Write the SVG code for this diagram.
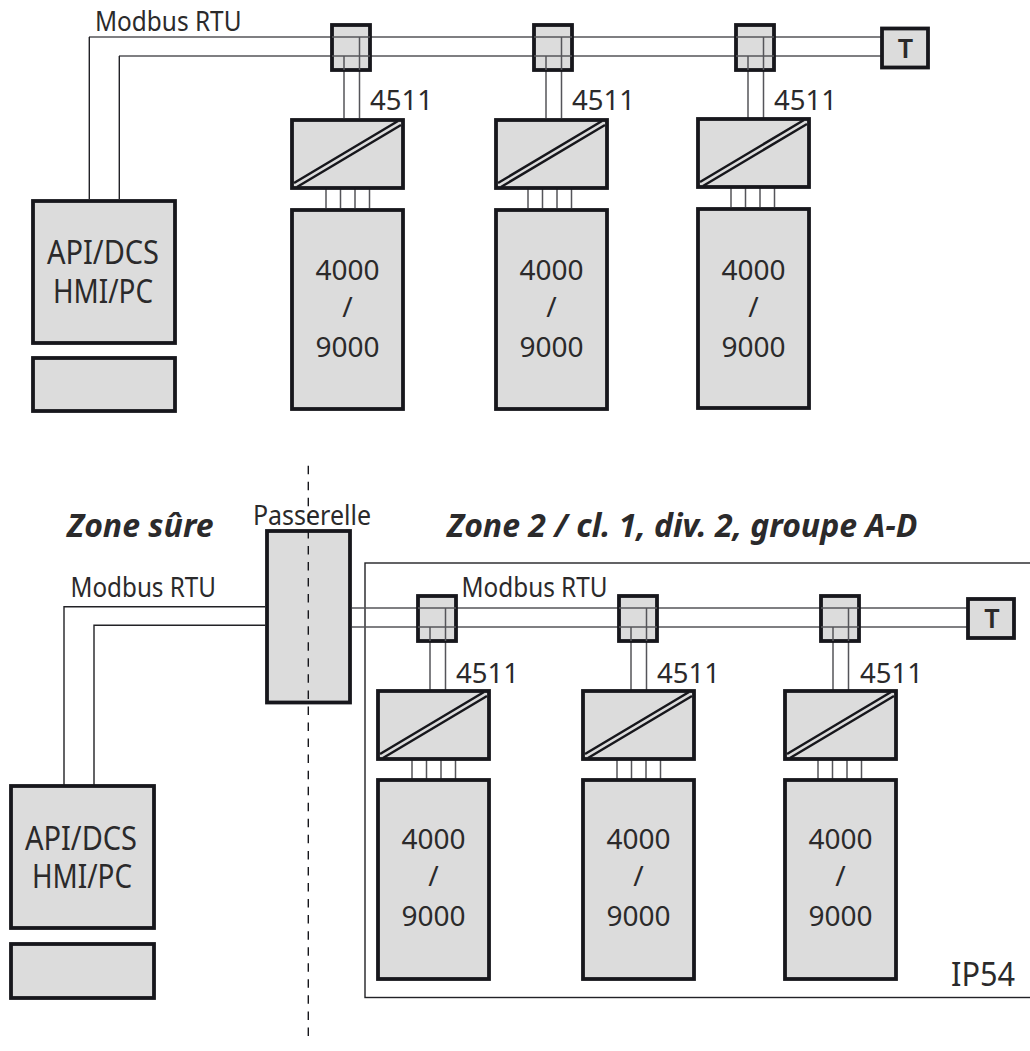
<svg xmlns="http://www.w3.org/2000/svg" xmlns:xlink="http://www.w3.org/1999/xlink" width="1030" height="1051" viewBox="0 0 1030 1051">
<style>
text{font-family:"Noto Sans","Open Sans",sans-serif;fill:#2b2a2b}
.b{fill:#dcdcdc;stroke:#17171c;stroke-width:3.8}
.l{fill:none;stroke:#55555a;stroke-width:1.5}
.k{fill:none;stroke:#222226;stroke-width:1.4}
.t{font-size:27.500px}
.m{font-size:27px}
.big{font-size:28px;text-anchor:middle}
.api{font-size:32px;text-anchor:middle}
.z{font-size:32px;font-weight:700;font-style:italic}
.tt{font-size:27px;font-weight:600;text-anchor:middle}
.d{fill:none;stroke:#17171c;stroke-width:2.500}
</style>
<defs>
<g id="conv">
<rect class="b" x="2" y="2" width="111" height="68"/>
<path class="d" d="M4 65L108 3M7 69L111 7"/>
</g>
</defs>
<rect id="ip54-zone" x="365" y="563" width="670" height="434.500" fill="none" stroke="#222226" stroke-width="1.400"/>
<g id="connectors">
<path class="l" d="M89 37H332M119 56H332M370 37H534M370 56H534M572 37H736M572 56H736M774 37H882M774 56H882"/>
<path class="k" d="M89.300 199V37M119.300 199V56"/>
<path class="l" d="M344 56V118M359.500 37V118M546 56V118M561.500 37V118M748 56V118M763.500 37V118"/>
<path class="l" d="M326 189V208M340.500 189V208M355 189V208M369.500 189V208M528 189V208M542.500 189V208M557 189V208M571.500 189V208M731 188V207M745.500 188V207M760 188V207M774.500 188V207"/>
<path class="k" d="M64 785V606.700H265M94 785V625.300H265"/>
<path class="l" d="M352 608H418M352 627H418M456 608H619M456 627H619M657 608H821M657 627H821M859 608H968M859 627H968"/>
<path class="l" d="M430 627V690M445.500 608V690M631 627V690M646.500 608V690M833 627V690M848.500 608V690"/>
<path class="l" d="M412 760V779M426.500 760V779M441 760V779M455.500 760V779M617 760V779M631.500 760V779M646 760V779M660.500 760V779M818 760V779M832.500 760V779M847 760V779M861.500 760V779"/>
</g>
<g id="api-top"><rect class="b" x="33" y="201" width="142" height="142"/><text class="api" x="103" y="264" textLength="112" lengthAdjust="spacingAndGlyphs">API/DCS</text><text class="api" x="103" y="303" textLength="100" lengthAdjust="spacingAndGlyphs">HMI/PC</text></g>
<g id="panel-top"><rect class="b" x="33" y="358" width="142" height="53"/></g>
<g id="tap-1"><rect class="b" x="332" y="25" width="38" height="45"/><path class="l" d="M332 37H370M332 56H370M344 56V70M359.500 37V70"/></g>
<g id="tap-2"><rect class="b" x="534" y="25" width="38" height="45"/><path class="l" d="M534 37H572M534 56H572M546 56V70M561.500 37V70"/></g>
<g id="tap-3"><rect class="b" x="736" y="25" width="38" height="45"/><path class="l" d="M736 37H774M736 56H774M748 56V70M763.500 37V70"/></g>
<g id="term-top"><rect class="b" x="882" y="28.500" width="46" height="39"/><text class="tt" x="905.500" y="58">T</text></g>
<g id="conv-1"><use xlink:href="#conv" x="290" y="118"/></g>
<g id="conv-2"><use xlink:href="#conv" x="494" y="118"/></g>
<g id="conv-3"><use xlink:href="#conv" x="696" y="117"/></g>
<g id="dev-1"><rect class="b" x="292" y="210" width="111" height="199"/><text class="big" x="347.500" y="280">4000</text><text class="big" x="347.500" y="317">/</text><text class="big" x="347.500" y="357">9000</text></g>
<g id="dev-2"><rect class="b" x="496" y="210" width="111" height="199"/><text class="big" x="551.500" y="280">4000</text><text class="big" x="551.500" y="317">/</text><text class="big" x="551.500" y="357">9000</text></g>
<g id="dev-3"><rect class="b" x="698" y="209" width="111" height="199"/><text class="big" x="753.500" y="280">4000</text><text class="big" x="753.500" y="317">/</text><text class="big" x="753.500" y="357">9000</text></g>
<text class="m" x="95" y="30.500" textLength="146.500" lengthAdjust="spacingAndGlyphs">Modbus RTU</text>
<text class="t" x="370" y="110">4511</text><text class="t" x="572" y="110">4511</text><text class="t" x="774" y="110">4511</text>

<g id="api-bottom"><rect class="b" x="11" y="786" width="143" height="142"/><text class="api" x="81" y="850" textLength="112" lengthAdjust="spacingAndGlyphs">API/DCS</text><text class="api" x="82" y="888" textLength="100" lengthAdjust="spacingAndGlyphs">HMI/PC</text></g>
<g id="panel-bottom"><rect class="b" x="11" y="944" width="143" height="54"/></g>
<g id="gateway"><rect class="b" x="267" y="531" width="83" height="171.500"/><text x="312" y="525" font-size="28" text-anchor="middle" textLength="118" lengthAdjust="spacingAndGlyphs">Passerelle</text></g>
<path id="zone-boundary" d="M308.300 465.700V1036" fill="none" stroke="#17171c" stroke-width="1.400" stroke-dasharray="8.500 7.550"/>
<g id="tap-b1"><rect class="b" x="418" y="596" width="38" height="45"/><path class="l" d="M418 608H456M418 627H456M430 627V641M445.500 608V641"/></g>
<g id="tap-b2"><rect class="b" x="619" y="596" width="38" height="45"/><path class="l" d="M619 608H657M619 627H657M631 627V641M646.500 608V641"/></g>
<g id="tap-b3"><rect class="b" x="821" y="596" width="38" height="45"/><path class="l" d="M821 608H859M821 627H859M833 627V641M848.500 608V641"/></g>
<g id="term-bottom"><rect class="b" x="968" y="599" width="46" height="39"/><text class="tt" x="992" y="628">T</text></g>
<g id="conv-b1"><use xlink:href="#conv" x="376" y="689"/></g>
<g id="conv-b2"><use xlink:href="#conv" x="581" y="689"/></g>
<g id="conv-b3"><use xlink:href="#conv" x="783" y="689"/></g>
<g id="dev-b1"><rect class="b" x="378" y="780" width="111" height="199"/><text class="big" x="433.500" y="849">4000</text><text class="big" x="433.500" y="886">/</text><text class="big" x="433.500" y="926">9000</text></g>
<g id="dev-b2"><rect class="b" x="583" y="780" width="111" height="199"/><text class="big" x="638.500" y="849">4000</text><text class="big" x="638.500" y="886">/</text><text class="big" x="638.500" y="926">9000</text></g>
<g id="dev-b3"><rect class="b" x="785" y="780" width="111" height="199"/><text class="big" x="840.500" y="849">4000</text><text class="big" x="840.500" y="886">/</text><text class="big" x="840.500" y="926">9000</text></g>
<text class="z" x="67" y="537">Zone sûre</text>
<text class="z" x="447" y="537">Zone 2 / cl. 1, div. 2, groupe A-D</text>
<text class="m" x="70.500" y="597" textLength="145.500" lengthAdjust="spacingAndGlyphs">Modbus RTU</text>
<text class="m" x="461.500" y="597" textLength="146" lengthAdjust="spacingAndGlyphs">Modbus RTU</text>
<text class="t" x="456" y="682.500">4511</text><text class="t" x="657" y="682.500">4511</text><text class="t" x="860" y="682.500">4511</text>
<text class="api" x="983" y="986" textLength="64" lengthAdjust="spacingAndGlyphs">IP54</text>
</svg>
